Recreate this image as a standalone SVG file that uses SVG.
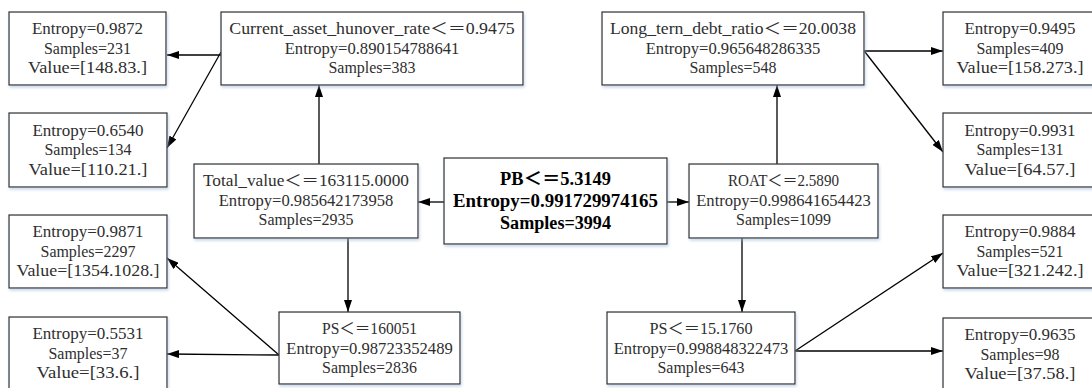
<svg xmlns="http://www.w3.org/2000/svg" width="1092" height="388" viewBox="0 0 1092 388">
  <style>
    .box { fill: #ffffff; stroke: #2b2b2b; stroke-width: 1.2; filter: url(#shade); }
    .t { font-family: "Liberation Serif", "Noto Sans CJK SC", serif; font-size: 16px; fill: #2e2e2e; text-anchor: middle; }
    .tb { font-family: "Liberation Serif", "Noto Sans CJK SC", serif; font-size: 18px; font-weight: bold; fill: #000000; text-anchor: middle; }
    .edge { fill: none; stroke: #000000; stroke-width: 1.3; marker-end: url(#head); }
  </style>
  <defs>
    <filter id="shade" x="-10%" y="-10%" width="120%" height="130%">
      <feDropShadow dx="1" dy="2" stdDeviation="1.5" flood-color="#9fb6d4" flood-opacity="0.55"/>
    </filter>
    <marker id="head" viewBox="0 0 12 8" refX="12" refY="4" markerWidth="12" markerHeight="8" markerUnits="userSpaceOnUse" orient="auto">
      <path d="M0,0 L12,4 L0,8 z" fill="#000000"/>
    </marker>
  </defs>

  <!-- connectors -->
  <g id="connectors">
    <line class="edge" x1="444" y1="202" x2="418" y2="202"/>
    <line class="edge" x1="667" y1="202" x2="689" y2="202"/>
    <line class="edge" x1="319" y1="164" x2="319" y2="85"/>
    <line class="edge" x1="348" y1="238" x2="348" y2="312"/>
    <line class="edge" x1="221" y1="55" x2="167" y2="55"/>
    <line class="edge" x1="221" y1="52" x2="167" y2="148"/>
    <line class="edge" x1="279" y1="355" x2="167" y2="258"/>
    <line class="edge" x1="279" y1="355" x2="167" y2="354"/>
    <line class="edge" x1="777" y1="164" x2="777" y2="85"/>
    <line class="edge" x1="742" y1="238" x2="742" y2="312"/>
    <line class="edge" x1="864" y1="51" x2="943" y2="51"/>
    <line class="edge" x1="865" y1="52" x2="943" y2="152"/>
    <line class="edge" x1="795" y1="351" x2="943" y2="253"/>
    <line class="edge" x1="795" y1="351" x2="943" y2="351"/>
  </g>

  <!-- root split -->
  <g id="root">
    <rect class="box" x="444" y="158" width="223" height="86"/>
    <text class="tb" x="555.5" y="185" textLength="111" lengthAdjust="spacingAndGlyphs">PB＜＝5.3149</text>
    <text class="tb" x="555.5" y="207" textLength="205" lengthAdjust="spacingAndGlyphs">Entropy=0.991729974165</text>
    <text class="tb" x="555.5" y="229" textLength="111" lengthAdjust="spacingAndGlyphs">Samples=3994</text>
  </g>

  <!-- left subtree -->
  <g id="total_value">
    <rect class="box" x="194" y="164" width="224" height="74"/>
    <text class="t" x="306" y="186" textLength="206" lengthAdjust="spacingAndGlyphs">Total_value＜＝163115.0000</text>
    <text class="t" x="306" y="205.5" textLength="174.5" lengthAdjust="spacingAndGlyphs">Entropy=0.985642173958</text>
    <text class="t" x="306" y="225" textLength="95" lengthAdjust="spacingAndGlyphs">Samples=2935</text>
  </g>

  <g id="current_asset">
    <rect class="box" x="221" y="12" width="302" height="73"/>
    <text class="t" x="372" y="34" textLength="285.5" lengthAdjust="spacingAndGlyphs">Current_asset_hunover_rate＜＝0.9475</text>
    <text class="t" x="372" y="53.5" textLength="174.5" lengthAdjust="spacingAndGlyphs">Entropy=0.890154788641</text>
    <text class="t" x="372" y="73" textLength="87" lengthAdjust="spacingAndGlyphs">Samples=383</text>
  </g>

  <g id="ps_left">
    <rect class="box" x="279" y="312" width="181" height="72"/>
    <text class="t" x="369.5" y="334" textLength="95" lengthAdjust="spacingAndGlyphs">PS＜＝160051</text>
    <text class="t" x="369.5" y="353.5" textLength="166.5" lengthAdjust="spacingAndGlyphs">Entropy=0.98723352489</text>
    <text class="t" x="369.5" y="373" textLength="95" lengthAdjust="spacingAndGlyphs">Samples=2836</text>
  </g>

  <g id="leaf_l1">
    <rect class="box" x="9" y="12" width="157" height="73"/>
    <text class="t" x="87.5" y="34" textLength="111" lengthAdjust="spacingAndGlyphs">Entropy=0.9872</text>
    <text class="t" x="87.5" y="53.5" textLength="87" lengthAdjust="spacingAndGlyphs">Samples=231</text>
    <text class="t" x="87.5" y="73" textLength="119" lengthAdjust="spacingAndGlyphs">Value=[148.83.]</text>
  </g>

  <g id="leaf_l2">
    <rect class="box" x="9" y="113" width="158" height="74"/>
    <text class="t" x="88" y="135.5" textLength="111" lengthAdjust="spacingAndGlyphs">Entropy=0.6540</text>
    <text class="t" x="88" y="155" textLength="87" lengthAdjust="spacingAndGlyphs">Samples=134</text>
    <text class="t" x="88" y="174.5" textLength="119" lengthAdjust="spacingAndGlyphs">Value=[110.21.]</text>
  </g>

  <g id="leaf_l3">
    <rect class="box" x="9" y="215" width="158" height="73"/>
    <text class="t" x="88" y="237" textLength="111" lengthAdjust="spacingAndGlyphs">Entropy=0.9871</text>
    <text class="t" x="88" y="256.5" textLength="95" lengthAdjust="spacingAndGlyphs">Samples=2297</text>
    <text class="t" x="88" y="276" textLength="143" lengthAdjust="spacingAndGlyphs">Value=[1354.1028.]</text>
  </g>

  <g id="leaf_l4">
    <rect class="box" x="9" y="317" width="158" height="73"/>
    <text class="t" x="88" y="339" textLength="111" lengthAdjust="spacingAndGlyphs">Entropy=0.5531</text>
    <text class="t" x="88" y="358.5" textLength="79" lengthAdjust="spacingAndGlyphs">Samples=37</text>
    <text class="t" x="88" y="378" textLength="103" lengthAdjust="spacingAndGlyphs">Value=[33.6.]</text>
  </g>

  <!-- right subtree -->
  <g id="roat">
    <rect class="box" x="689" y="164" width="189" height="74"/>
    <text class="t" x="783.5" y="186" textLength="111" lengthAdjust="spacingAndGlyphs">ROAT＜＝2.5890</text>
    <text class="t" x="783.5" y="205.5" textLength="174.5" lengthAdjust="spacingAndGlyphs">Entropy=0.998641654423</text>
    <text class="t" x="783.5" y="225" textLength="95" lengthAdjust="spacingAndGlyphs">Samples=1099</text>
  </g>

  <g id="long_term_debt">
    <rect class="box" x="602" y="12" width="262" height="73"/>
    <text class="t" x="733" y="34" textLength="246" lengthAdjust="spacingAndGlyphs">Long_tern_debt_ratio＜＝20.0038</text>
    <text class="t" x="733" y="53.5" textLength="174.5" lengthAdjust="spacingAndGlyphs">Entropy=0.965648286335</text>
    <text class="t" x="733" y="73" textLength="87" lengthAdjust="spacingAndGlyphs">Samples=548</text>
  </g>

  <g id="ps_right">
    <rect class="box" x="607" y="312" width="188" height="72"/>
    <text class="t" x="701" y="334" textLength="103" lengthAdjust="spacingAndGlyphs">PS＜＝15.1760</text>
    <text class="t" x="701" y="353.5" textLength="174.5" lengthAdjust="spacingAndGlyphs">Entropy=0.998848322473</text>
    <text class="t" x="701" y="373" textLength="87" lengthAdjust="spacingAndGlyphs">Samples=643</text>
  </g>

  <g id="leaf_r1">
    <rect class="box" x="943" y="12" width="150" height="73"/>
    <text class="t" x="1020" y="34" textLength="111" lengthAdjust="spacingAndGlyphs">Entropy=0.9495</text>
    <text class="t" x="1020" y="53.5" textLength="87" lengthAdjust="spacingAndGlyphs">Samples=409</text>
    <text class="t" x="1020" y="73" textLength="127" lengthAdjust="spacingAndGlyphs">Value=[158.273.]</text>
  </g>

  <g id="leaf_r2">
    <rect class="box" x="943" y="113" width="150" height="74"/>
    <text class="t" x="1020" y="135.5" textLength="111" lengthAdjust="spacingAndGlyphs">Entropy=0.9931</text>
    <text class="t" x="1020" y="155" textLength="87" lengthAdjust="spacingAndGlyphs">Samples=131</text>
    <text class="t" x="1020" y="174.5" textLength="111" lengthAdjust="spacingAndGlyphs">Value=[64.57.]</text>
  </g>

  <g id="leaf_r3">
    <rect class="box" x="943" y="215" width="150" height="73"/>
    <text class="t" x="1020" y="237" textLength="111" lengthAdjust="spacingAndGlyphs">Entropy=0.9884</text>
    <text class="t" x="1020" y="256.5" textLength="87" lengthAdjust="spacingAndGlyphs">Samples=521</text>
    <text class="t" x="1020" y="276" textLength="127" lengthAdjust="spacingAndGlyphs">Value=[321.242.]</text>
  </g>

  <g id="leaf_r4">
    <rect class="box" x="943" y="318" width="150" height="73"/>
    <text class="t" x="1020" y="340" textLength="111" lengthAdjust="spacingAndGlyphs">Entropy=0.9635</text>
    <text class="t" x="1020" y="359.5" textLength="79" lengthAdjust="spacingAndGlyphs">Samples=98</text>
    <text class="t" x="1020" y="379" textLength="111" lengthAdjust="spacingAndGlyphs">Value=[37.58.]</text>
  </g>
</svg>
